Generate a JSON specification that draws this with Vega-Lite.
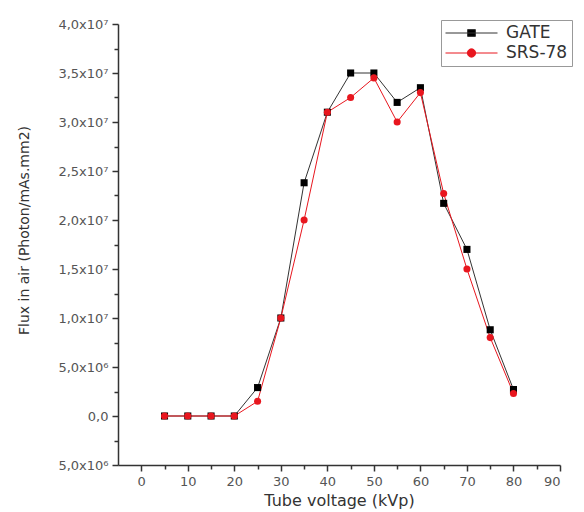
{
  "$schema": "https://vega.github.io/schema/vega-lite/v6.json",
  "width": 442,
  "height": 441,
  "autosize": {"type": "none"},
  "padding": {"left": 118, "top": 24, "right": 24, "bottom": 47},
  "background": "white",
  "config": {"view": {"stroke": null}, "font": "DejaVu Sans"},
  "datasets": {
    "flux": [
      {"kvp": 5, "flux": 0, "series": "GATE"},
      {"kvp": 10, "flux": 0, "series": "GATE"},
      {"kvp": 15, "flux": 0, "series": "GATE"},
      {"kvp": 20, "flux": 0, "series": "GATE"},
      {"kvp": 25, "flux": 2900000, "series": "GATE"},
      {"kvp": 30, "flux": 10000000, "series": "GATE"},
      {"kvp": 35, "flux": 23800000, "series": "GATE"},
      {"kvp": 40, "flux": 31000000, "series": "GATE"},
      {"kvp": 45, "flux": 35000000, "series": "GATE"},
      {"kvp": 50, "flux": 35000000, "series": "GATE"},
      {"kvp": 55, "flux": 32000000, "series": "GATE"},
      {"kvp": 60, "flux": 33500000, "series": "GATE"},
      {"kvp": 65, "flux": 21700000, "series": "GATE"},
      {"kvp": 70, "flux": 17000000, "series": "GATE"},
      {"kvp": 75, "flux": 8800000, "series": "GATE"},
      {"kvp": 80, "flux": 2700000, "series": "GATE"},
      {"kvp": 5, "flux": 0, "series": "SRS-78"},
      {"kvp": 10, "flux": 0, "series": "SRS-78"},
      {"kvp": 15, "flux": 0, "series": "SRS-78"},
      {"kvp": 20, "flux": 0, "series": "SRS-78"},
      {"kvp": 25, "flux": 1500000, "series": "SRS-78"},
      {"kvp": 30, "flux": 10000000, "series": "SRS-78"},
      {"kvp": 35, "flux": 20000000, "series": "SRS-78"},
      {"kvp": 40, "flux": 31000000, "series": "SRS-78"},
      {"kvp": 45, "flux": 32500000, "series": "SRS-78"},
      {"kvp": 50, "flux": 34500000, "series": "SRS-78"},
      {"kvp": 55, "flux": 30000000, "series": "SRS-78"},
      {"kvp": 60, "flux": 33000000, "series": "SRS-78"},
      {"kvp": 65, "flux": 22700000, "series": "SRS-78"},
      {"kvp": 70, "flux": 15000000, "series": "SRS-78"},
      {"kvp": 75, "flux": 8000000, "series": "SRS-78"},
      {"kvp": 80, "flux": 2300000, "series": "SRS-78"}
    ]
  },
  "data": {"name": "flux"},
  "encoding": {
    "x": {
      "field": "kvp",
      "type": "quantitative",
      "scale": {"domain": [-5, 90], "nice": false, "zero": false},
      "axis": {
        "title": "Tube voltage (kVp)",
        "titleFontSize": 16,
        "titleFontWeight": "normal",
        "titleColor": "#333",
        "titlePadding": 4,
        "values": [0, 5, 10, 15, 20, 25, 30, 35, 40, 45, 50, 55, 60, 65, 70, 75, 80, 85, 90],
        "labelExpr": "datum.value % 10 == 0 ? format(datum.value, 'd') : ''",
        "labelFontSize": 13,
        "labelColor": "#555",
        "labelPadding": 4,
        "grid": false,
        "domainColor": "#333",
        "domainWidth": 1.5,
        "tickColor": "#333",
        "tickWidth": 1.5,
        "tickSize": {"condition": {"test": "datum.value % 10 == 0", "value": 6}, "value": 4}
      }
    },
    "y": {
      "field": "flux",
      "type": "quantitative",
      "scale": {"domain": [-5000000, 40000000], "nice": false},
      "axis": {
        "title": "Flux in air (Photon/mAs.mm2)",
        "titleFontSize": 14,
        "titleFontWeight": "normal",
        "titleColor": "#333",
        "titlePadding": 26,
        "titleY": 206,
        "values": [-5000000, -2500000, 0, 2500000, 5000000, 7500000, 10000000, 12500000, 15000000, 17500000, 20000000, 22500000, 25000000, 27500000, 30000000, 32500000, 35000000, 37500000, 40000000],
        "labelExpr": "datum.value % 5000000 != 0 ? '' : datum.value == 0 ? '0,0' : (abs(datum.value) >= 10000000 ? replace(format(abs(datum.value) / 10000000, '.1f'), '.', ',') + 'x10⁷' : replace(format(abs(datum.value) / 1000000, '.1f'), '.', ',') + 'x10⁶')",
        "labelFontSize": 13,
        "labelColor": "#555",
        "labelPadding": 4,
        "grid": false,
        "domainColor": "#333",
        "domainWidth": 1.5,
        "tickColor": "#333",
        "tickWidth": 1.5,
        "tickSize": {"condition": {"test": "datum.value % 5000000 == 0", "value": 6}, "value": 4}
      }
    }
  },
  "layer": [
    {
      "mark": {"type": "line", "strokeWidth": 1},
      "encoding": {
        "detail": {"field": "series", "type": "nominal"},
        "color": {"condition": {"test": "datum.series == 'GATE'", "value": "#333333"}, "value": "#e8161e"}
      }
    },
    {
      "mark": {"type": "point", "filled": true, "opacity": 1, "size": 50},
      "encoding": {
        "color": {"condition": {"test": "datum.series == 'GATE'", "value": "#000000"}, "value": "#e8161e"},
        "shape": {"condition": {"test": "datum.series == 'GATE'", "value": "square"}, "value": "circle"}
      }
    },
    {
      "mark": {"type": "point", "filled": false, "opacity": 0, "size": 2704, "strokeWidth": 1},
      "encoding": {
        "color": {
          "field": "series",
          "type": "nominal",
          "scale": {"domain": ["GATE", "SRS-78"], "range": ["#333333", "#e8161e"]},
          "legend": {
            "title": null,
            "orient": "none",
            "legendX": 323,
            "legendY": -4,
            "symbolSize": 2704,
            "clipHeight": 18,
            "rowPadding": 2,
            "labelFontSize": 17,
            "labelColor": "#333",
            "labelOffset": 8,
            "strokeColor": "#999",
            "padding": 4,
            "symbolOpacity": 1,
            "symbolStrokeWidth": 1
          }
        },
        "fill": {
          "field": "series",
          "type": "nominal",
          "scale": {"domain": ["GATE", "SRS-78"], "range": ["#000000", "#e8161e"]},
          "legend": {
            "title": null,
            "orient": "none",
            "legendX": 323,
            "legendY": -4,
            "symbolSize": 2704,
            "clipHeight": 18,
            "rowPadding": 2,
            "labelFontSize": 17,
            "labelColor": "#333",
            "labelOffset": 8,
            "strokeColor": "#999",
            "padding": 4,
            "symbolOpacity": 1,
            "symbolStrokeWidth": 1
          }
        },
        "shape": {
          "field": "series",
          "type": "nominal",
          "scale": {
            "domain": ["GATE", "SRS-78"],
            "range": [
              "M-1,0H1M-0.15,-0.13H0.15V0.13H-0.15Z",
              "M-1,0H-0.16A0.16,0.16 0 1,1 0.16,0H1M-0.16,0A0.16,0.16 0 1,0 0.16,0"
            ]
          },
          "legend": {
            "title": null,
            "orient": "none",
            "legendX": 323,
            "legendY": -4,
            "symbolSize": 2704,
            "clipHeight": 18,
            "rowPadding": 2,
            "labelFontSize": 17,
            "labelColor": "#333",
            "labelOffset": 8,
            "strokeColor": "#999",
            "padding": 4,
            "symbolOpacity": 1,
            "symbolStrokeWidth": 1
          }
        }
      }
    }
  ]
}
